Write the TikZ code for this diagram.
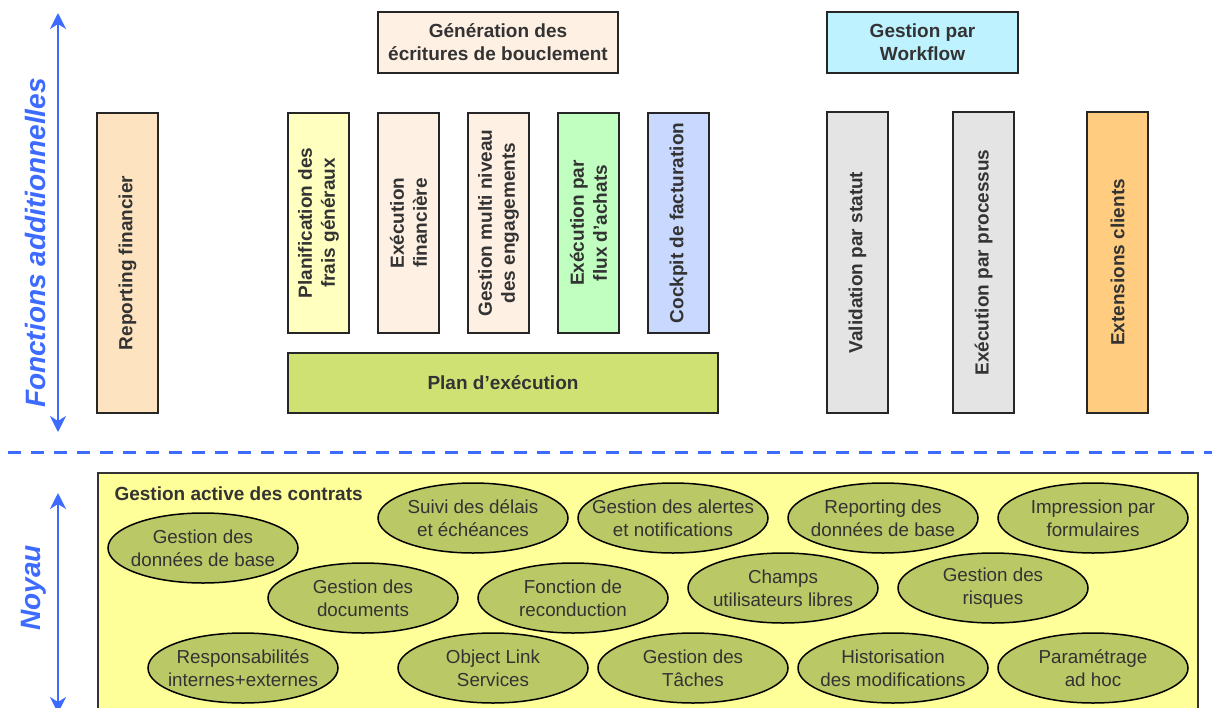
\documentclass[tikz,border=0pt]{standalone}
\usepackage{fontspec}
\setmainfont{Liberation Sans}
\usetikzlibrary{shapes.geometric,arrows.meta}
\definecolor{txt}{HTML}{333333}
\definecolor{bleu}{HTML}{3D6BFF}
\definecolor{peach}{HTML}{FFF0E4}
\definecolor{cyanl}{HTML}{BFF2FF}
\definecolor{bisque}{HTML}{FDE3C0}
\definecolor{jaunel}{HTML}{FFFFC0}
\definecolor{vertl}{HTML}{C0FFC0}
\definecolor{bleul}{HTML}{C8D8FF}
\definecolor{planv}{HTML}{D0E174}
\definecolor{grisl}{HTML}{E4E4E4}
\definecolor{orangel}{HTML}{FFCC80}
\definecolor{noyauf}{HTML}{FFFF99}
\definecolor{ellf}{HTML}{BBC866}
\tikzset{
  box/.style={draw=black!85, line width=1.5pt, inner sep=0pt, align=center,
    text=txt, font=\fontsize{19}{23}\selectfont\bfseries},
  vbox/.style={box, rotate=90},
  elltext/.style={align=center, text=txt, inner sep=0pt,
    font=\fontsize{18.8}{23}\selectfont},
  ell/.style={ellipse, draw=black, line width=1.5pt, fill=ellf, inner sep=0pt,
    minimum width=190pt, minimum height=70pt,
    label={[elltext]center:#1}},
  axis/.style={draw=bleu, line width=2pt, {Stealth[length=16pt,width=16pt,inset=5pt]}-{Stealth[length=16pt,width=16pt,inset=5pt]}},
  ttl/.style={text=bleu, rotate=90, font=\fontsize{28}{30}\selectfont\bfseries\itshape}
}
\begin{document}
\begin{tikzpicture}[x=1pt,y=-1pt]
\useasboundingbox (0,0) rectangle (1212,707);
\clip (0,0) rectangle (1212,707);
\fill[white] (0,0) rectangle (1212,707);

% axes and titles
\coordinate (a1) at (58,13);
\coordinate (a2) at (58,432);
\draw[axis] (a1) -- (a2);
\node[ttl] (fa) at (35,243) {Fonctions additionnelles};
\coordinate (b1) at (58,493);
\coordinate (b2) at (58,713);
\draw[axis] (b1) -- (b2);
\node[ttl] (ny) at (34,588) {Noyau};
\coordinate (d1) at (8,452);
\coordinate (d2) at (1212,452);
\draw[bleu, line width=3pt, dash pattern=on 13pt off 10pt] (d1) -- (d2);

% top boxes
\node[box, fill=peach, minimum width=240pt, minimum height=61pt] (gen) at (498,42.5) {Génération des\\écritures de bouclement};
\node[box, fill=cyanl, minimum width=191pt, minimum height=61pt] (wf) at (922.5,42.5) {Gestion par\\Workflow};

\node[vbox, fill=bisque, minimum width=300pt, minimum height=61pt] (rf) at (127.5,263) {Reporting financier};
\node[vbox, fill=jaunel, minimum width=220pt, minimum height=61pt] (pf) at (318.5,223) {Planification des\\frais généraux};
\node[vbox, fill=peach, minimum width=220pt, minimum height=61pt] (ef) at (408.5,223) {Exécution\\financière};
\node[vbox, fill=peach, minimum width=220pt, minimum height=61pt] (gm) at (498.5,223) {Gestion multi niveau\\des engagements};
\node[vbox, fill=vertl, minimum width=220pt, minimum height=61pt] (ep) at (588.5,223) {Exécution par\\flux d’achats};
\node[vbox, fill=bleul, minimum width=220pt, minimum height=61pt] (cf) at (678.5,223) {Cockpit de facturation};
\node[box, fill=planv, minimum width=430pt, minimum height=60pt] (pe) at (503,383) {Plan d’exécution};
\node[vbox, fill=grisl, minimum width=301pt, minimum height=61pt] (vs) at (857.5,262.5) {Validation par statut};
\node[vbox, fill=grisl, minimum width=301pt, minimum height=61pt] (epp) at (983.5,262.5) {Exécution par processus};
\node[vbox, fill=orangel, minimum width=301pt, minimum height=61pt] (ec) at (1117.5,262.5) {Extensions clients};

% noyau
\filldraw[fill=noyauf, draw=black!80, line width=1.2pt] (98,473) rectangle (1198,720);
\node[anchor=west, text=txt, font=\fontsize{19}{22}\selectfont\bfseries] (gac) at (111,494) {Gestion active des contrats};

\node[ell={Gestion des\\données de base}] (e1) at (203,548) {};
\node[ell={Suivi des délais\\et échéances}] (e2) at (473,518) {};
\node[ell={Gestion des alertes\\et notifications}] (e3) at (673,518) {};
\node[ell={Reporting des\\données de base}] (e4) at (883,518) {};
\node[ell={Impression par\\formulaires}] (e5) at (1093,518) {};
\node[ell={Gestion des\\documents}] (e6) at (363,598) {};
\node[ell={Fonction de\\reconduction}] (e7) at (573,598) {};
\node[ell={Champs\\utilisateurs libres}] (e8) at (783,588) {};
\node[ell={Gestion des\\risques}] (e9) at (993,588) {};
\node[ell={Responsabilités\\internes+externes}] (e10) at (243,668) {};
\node[ell={Object Link\\Services}] (e11) at (493,668) {};
\node[ell={Gestion des\\Tâches}] (e12) at (693,668) {};
\node[ell={Historisation\\des modifications}] (e13) at (893,668) {};
\node[ell={Paramétrage\\ad hoc}] (e14) at (1093,668) {};
\end{tikzpicture}
\end{document}
